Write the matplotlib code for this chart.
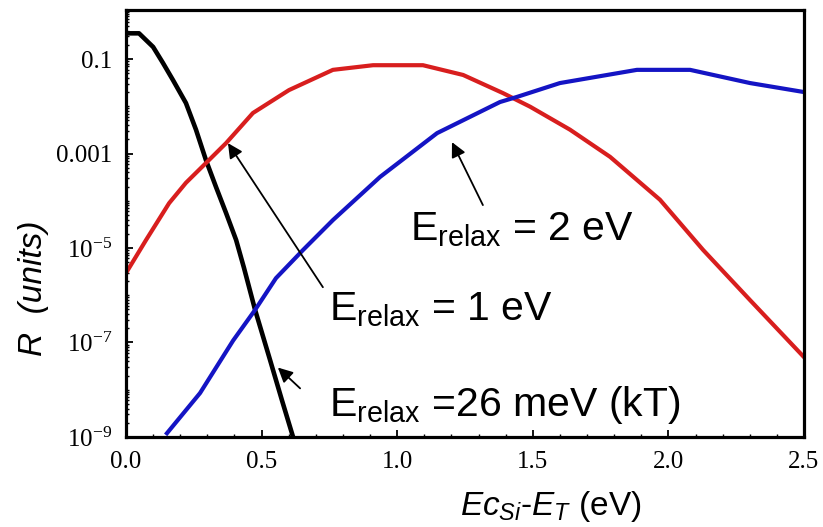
import matplotlib
matplotlib.use("Agg")
import matplotlib.pyplot as plt
from matplotlib.ticker import LogLocator, MultipleLocator, NullFormatter

plt.rcParams["mathtext.fontset"] = "custom"
plt.rcParams["mathtext.rm"] = "Liberation Sans"
plt.rcParams["mathtext.it"] = "Liberation Sans:italic"
plt.rcParams["mathtext.bf"] = "Liberation Sans:bold"

# E_relax = 26 meV (kT), black
x_kt = [0.0, 0.048, 0.10, 0.136, 0.173, 0.221, 0.258, 0.295, 0.332, 0.369,
        0.406, 0.435, 0.476, 0.531, 0.575, 0.616]
r_kt = [3.5e-1, 3.5e-1, 1.8e-1, 8.3e-2, 3.6e-2, 1.17e-2, 3.2e-3, 7.2e-4,
        1.95e-4, 5.5e-5, 1.48e-5, 3.8e-6, 4.9e-7, 4.3e-8, 6.0e-9, 1.0e-9]

# E_relax = 1 eV, red
x_1ev = [0.00, 0.074, 0.159, 0.221, 0.295, 0.369, 0.468, 0.601, 0.763, 0.911,
         1.095, 1.243, 1.390, 1.490, 1.637, 1.785, 1.969, 2.128, 2.301, 2.50]
r_1ev = [2.95e-6, 1.48e-5, 8.9e-5, 2.4e-4, 6.3e-4, 1.66e-3, 7.2e-3, 2.2e-2,
         5.9e-2, 7.4e-2, 7.4e-2, 4.6e-2, 1.9e-2, 9.8e-3, 3.2e-3, 8.5e-4,
         1.05e-4, 9.1e-6, 7.9e-7, 4.9e-8]

# E_relax = 2 eV, blue
x_2ev = [0.151, 0.273, 0.395, 0.476, 0.553, 0.653, 0.763, 0.937, 1.147,
         1.379, 1.442, 1.600, 1.884, 2.080, 2.301, 2.50]
r_2ev = [1.2e-9, 8.5e-9, 1.1e-7, 4.9e-7, 2.3e-6, 9.1e-6, 3.9e-5, 3.2e-4,
         2.7e-3, 1.23e-2, 1.58e-2, 3.1e-2, 5.9e-2, 5.9e-2, 3.1e-2, 2.0e-2]

xtick_vals = [0.0, 0.5, 1.0, 1.5, 2.0, 2.5]
xtick_labels = ["0.0", "0.5", "1.0", "1.5", "2.0", "2.5"]
ytick_vals = [1e-1, 1e-3, 1e-5, 1e-7, 1e-9]
ytick_labels = ["0.1", "0.001", r"$\mathregular{10^{-5}}$",
                r"$\mathregular{10^{-7}}$", r"$\mathregular{10^{-9}}$"]

fig = plt.figure(figsize=(8.23, 5.27), dpi=100)
ax = fig.add_axes([0.1531, 0.1708, 0.8238, 0.8102])

ax.plot(x_kt, r_kt, color="black", lw=3.3)
ax.plot(x_1ev, r_1ev, color="#d81e1e", lw=3.0)
ax.plot(x_2ev, r_2ev, color="#1414c4", lw=3.0)

ax.set_yscale("log")
ax.set_xlim(0, 2.5)
ax.set_ylim(1e-9, 1.09)

ax.set_xticks(xtick_vals)
ax.set_xticklabels(xtick_labels, fontfamily="Liberation Serif", fontsize=18)
ax.xaxis.set_minor_locator(MultipleLocator(0.1))
ax.set_yticks(ytick_vals)
ax.set_yticklabels(ytick_labels, fontfamily="Liberation Serif", fontsize=18,
                   va="center_baseline")
ax.yaxis.set_minor_locator(LogLocator(base=10, subs=range(1, 10), numticks=100))
ax.yaxis.set_minor_formatter(NullFormatter())

ax.tick_params(which="both", direction="in", top=False, right=False)
ax.tick_params(which="major", length=5, width=1.3, pad=10)
ax.tick_params(which="minor", length=2.5, width=1.0)
for s in ax.spines.values():
    s.set_linewidth(2.3)

ax.set_xlabel(r"$Ec_{Si}$-$E_T$ (eV)", fontfamily="Liberation Sans", fontsize=24,
              va="baseline")
ax.xaxis.set_label_coords(0.626, -0.183)
ax.set_ylabel("R  (units)", fontfamily="Liberation Sans", fontsize=24,
              fontstyle="italic", va="center")
ax.yaxis.set_label_coords(-0.137, 0.349)

arrow = dict(arrowstyle="-|>", color="black", lw=1.3, mutation_scale=22,
             shrinkA=0, shrinkB=0)
ax.annotate("", xy=(1.202, 1.74e-3), xytext=(1.316, 8.1e-5), arrowprops=arrow)
ax.annotate("", xy=(0.376, 1.66e-3), xytext=(0.726, 1.48e-6), arrowprops=arrow)
ax.annotate("", xy=(0.560, 2.95e-8), xytext=(0.642, 1.07e-8), arrowprops=arrow)

ax.text(1.047, 1.48e-5, r"$\mathrm{E_{relax}}$ = 2 eV", fontfamily="Liberation Sans",
        fontsize=29.5, va="baseline")
ax.text(0.749, 2.95e-7, r"$\mathrm{E_{relax}}$ = 1 eV", fontfamily="Liberation Sans",
        fontsize=29.5, va="baseline")
ax.text(0.749, 2.75e-9, r"$\mathrm{E_{relax}}$ =26 meV (kT)", fontfamily="Liberation Sans",
        fontsize=29.5, va="baseline")

fig.savefig("out.png", dpi=100)
